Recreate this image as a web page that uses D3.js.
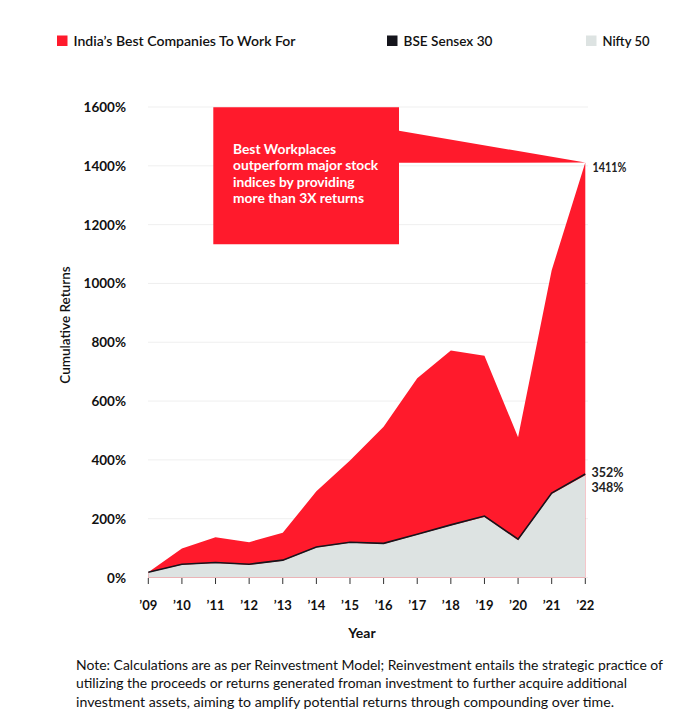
<!DOCTYPE html>
<html><head><meta charset="utf-8">
<script src="https://cdn.jsdelivr.net/npm/d3@7"></script>
<style>body{margin:0;background:#fff;} svg{display:block;font-family:Lato, "Noto Sans", sans-serif;}</style>
</head><body>
<script>
const years = ["’09","’10","’11","’12","’13","’14","’15","’16","’17","’18","’19","’20","’21","’22"];
const bestCompanies = [18, 99, 137, 120, 152, 293, 398, 513, 678, 772, 754, 477, 1045, 1411];
const sensex = [18, 45, 51, 45, 59, 104, 120, 116, 147, 179, 209, 130, 287, 352];
const nifty = [17, 43, 49, 43, 57, 102, 118, 114, 145, 177, 206, 127, 284, 348];
const yTicks = [0, 200, 400, 600, 800, 1000, 1200, 1400, 1600];
const seriesNames = ["India’s Best Companies To Work For", "BSE Sensex 30", "Nifty 50"];
const colors = ["#ff1a2c", "#15151c", "#dde3e2"];
const calloutLines = ["Best Workplaces", "outperform major stock", "indices by providing", "more than 3X returns"];
const noteLines = [
 "Note: Calculations are as per Reinvestment Model; Reinvestment entails the strategic practice of",
 "utilizing the proceeds or returns generated froman investment to further acquire additional",
 "investment assets, aiming to amplify potential returns through compounding over time."
];

const W = 691, H = 720;
const svg = d3.select("body").append("svg").attr("width", W).attr("height", H);
const x = d3.scalePoint().domain(years).range([148.3, 585.3]);
const y = d3.scaleLinear().domain([0, 1600]).range([577.5, 107]);

// gridlines
svg.append("g").selectAll("line").data(yTicks).join("line")
  .attr("x1", 148).attr("x2", 588)
  .attr("y1", d => y(d)).attr("y2", d => y(d))
  .attr("stroke", "#efefef").attr("stroke-width", 1);

// y labels
svg.append("g").selectAll("text").data(yTicks).join("text")
  .attr("x", 126).attr("y", d => y(d) + 5)
  .attr("text-anchor", "end").attr("font-size", 13.5).attr("font-weight", 700)
  .attr("fill", "#111").text(d => d + "%");

const area = vals => d3.area().x((d, i) => x(years[i])).y0(y(0)).y1(d => y(d))(vals);
const line = vals => d3.line().x((d, i) => x(years[i])).y(d => y(d))(vals);

svg.append("path").attr("d", area(bestCompanies)).attr("fill", colors[0]);
svg.append("path").attr("d", area(nifty)).attr("fill", colors[2]);
svg.append("path").attr("d", line(sensex)).attr("fill", "none").attr("stroke", colors[1]).attr("stroke-width", 1.6);

// x ticks
const xg = svg.append("g").attr("transform", `translate(0,${y(0)})`);
xg.selectAll("line").data(years).join("line")
  .attr("x1", d => x(d)).attr("x2", d => x(d)).attr("y1", 0.5).attr("y2", 6.5)
  .attr("stroke", "#333").attr("stroke-width", 1);
xg.selectAll("text").data(years).join("text")
  .attr("x", d => x(d)).attr("y", 32.5).attr("text-anchor", "middle")
  .attr("font-size", 13).attr("font-weight", 700).attr("fill", "#111").text(d => d);

svg.append("text").attr("x", 362).attr("y", 638).attr("text-anchor", "middle")
  .attr("font-size", 14).attr("font-weight", 700).attr("fill", "#111").text("Year");
svg.append("text").attr("transform", "translate(70,325) rotate(-90)").attr("text-anchor", "middle")
  .attr("font-size", 13.5).attr("font-weight", 600).attr("fill", "#111").text("Cumulative Returns");

// callout
const last = years.length - 1;
const tipX = x(years[last]), tipY = y(bestCompanies[last]);
svg.append("path")
  .attr("d", `M213.3,107.3 H399 V130.7 L${tipX},${tipY} L399,162.7 V244.3 H213.3 Z`)
  .attr("fill", colors[0]);
svg.append("g").selectAll("text").data(calloutLines).join("text")
  .attr("x", 233).attr("y", (d, i) => 153.5 + i * 16.5)
  .attr("font-size", 13.8).attr("font-weight", 700).attr("fill", "#fff").text(d => d);

svg.append("text").attr("x", 592.5).attr("y", tipY + 9)
  .attr("font-size", 12.5).attr("font-weight", 700).attr("fill", "#222")
  .attr("textLength", 34).attr("lengthAdjust", "spacingAndGlyphs").text(bestCompanies[last] + "%");
svg.append("text").attr("x", 591.5).attr("y", y(sensex[last]) + 3)
  .attr("font-size", 12.5).attr("font-weight", 700).attr("fill", "#222").text(sensex[last] + "%");
svg.append("text").attr("x", 591.5).attr("y", y(nifty[last]) + 17)
  .attr("font-size", 12.5).attr("font-weight", 700).attr("fill", "#222").text(nifty[last] + "%");

// legend
const legX = [57, 387, 586];
const legW = [222, 89, 47];
const lg = svg.append("g");
seriesNames.forEach((n, i) => {
  lg.append("rect").attr("x", legX[i]).attr("y", 35.5).attr("width", 10.5).attr("height", 10.5).attr("fill", colors[i]);
  lg.append("text").attr("x", legX[i] + 16.5).attr("y", 46).attr("font-size", 14).attr("font-weight", 600)
    .attr("textLength", legW[i]).attr("lengthAdjust", "spacingAndGlyphs")
    .attr("fill", "#111").text(n);
});

// note
const noteW = [587, 551, 538];
svg.append("g").selectAll("text").data(noteLines).join("text")
  .attr("x", 76).attr("y", (d, i) => 669.5 + i * 18.5)
  .attr("font-size", 12.8).attr("fill", "#111")
  .attr("textLength", (d, i) => noteW[i]).attr("lengthAdjust", "spacingAndGlyphs")
  .text(d => d);
</script>
</body></html>
